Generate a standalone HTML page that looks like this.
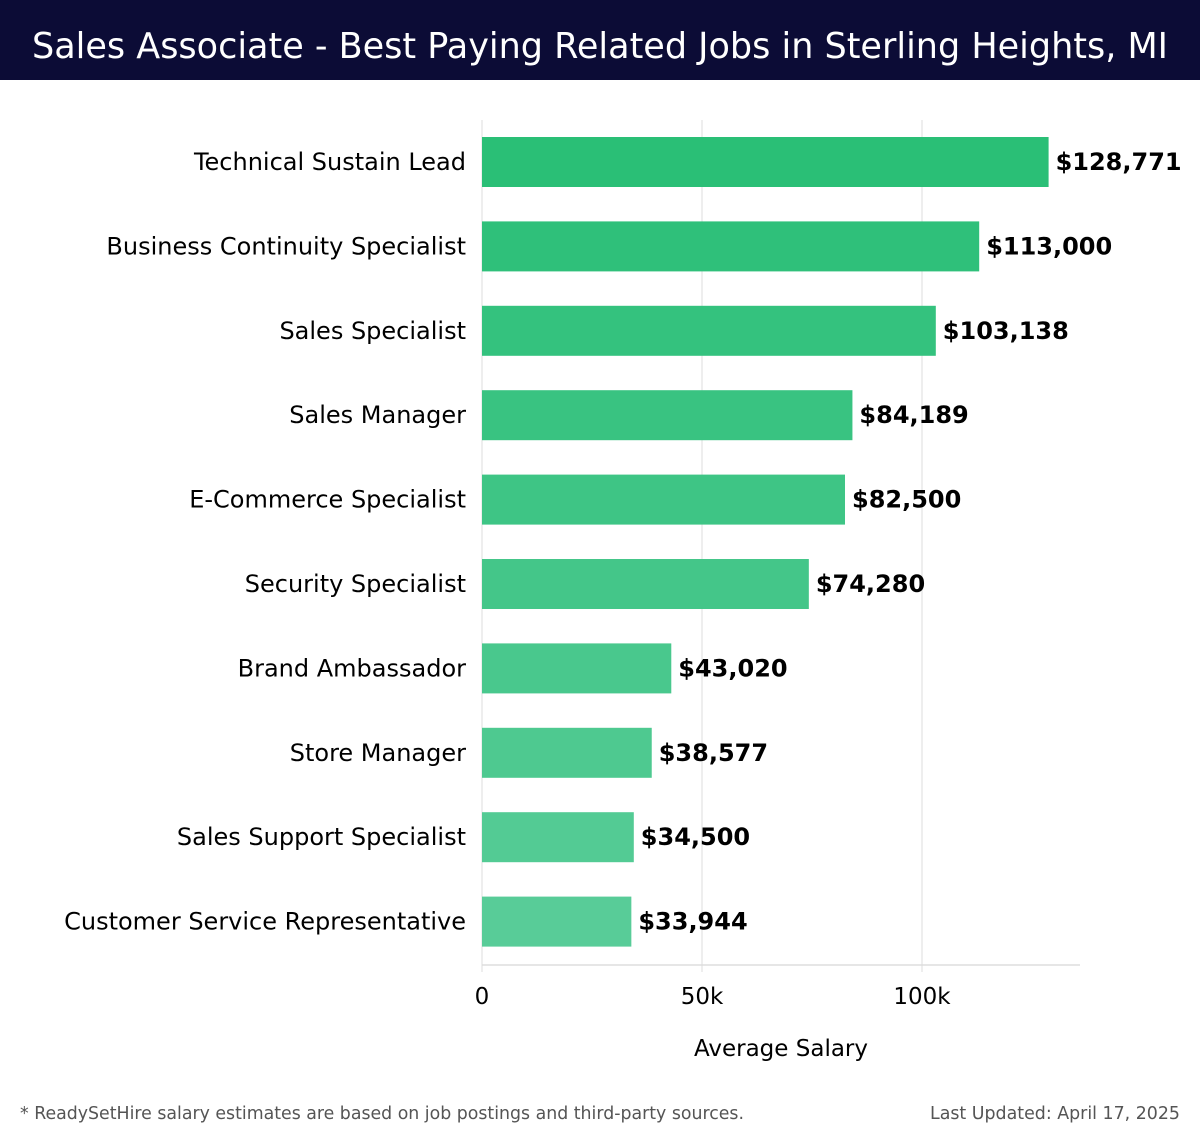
<!DOCTYPE html>
<html><head><meta charset="utf-8"><style>
body{margin:0;background:#fff;}
svg{display:block;}
</style></head><body>
<svg id="chart" width="1200" height="1140" xmlns="http://www.w3.org/2000/svg">
<rect x="0" y="0" width="1200" height="80" fill="#0c0c36"/>
<text x="600" y="58" text-anchor="middle" fill="#fff" font-family="'DejaVu Sans','Liberation Sans',sans-serif" font-size="36" textLength="1136" lengthAdjust="spacingAndGlyphs">Sales Associate - Best Paying Related Jobs in Sterling Heights, MI</text>
<g id="grid"></g>
<g id="bars"></g>
<line x1="482" y1="965" x2="1080" y2="965" stroke="#ddd" stroke-width="1.5"/>
<text x="781" y="1056" text-anchor="middle" font-family="'DejaVu Sans',sans-serif" font-size="23" fill="#000">Average Salary</text>
<text x="20" y="1119" font-family="'DejaVu Sans',sans-serif" font-size="18" fill="#555" textLength="724" lengthAdjust="spacingAndGlyphs">* ReadySetHire salary estimates are based on job postings and third-party sources.</text>
<text x="1180" y="1119" text-anchor="end" font-family="'DejaVu Sans',sans-serif" font-size="18" fill="#555" textLength="250" lengthAdjust="spacingAndGlyphs">Last Updated: April 17, 2025</text>
</svg>
<script>
const categories = ["Technical Sustain Lead","Business Continuity Specialist","Sales Specialist","Sales Manager","E-Commerce Specialist","Security Specialist","Brand Ambassador","Store Manager","Sales Support Specialist","Customer Service Representative"];
const salaries = [128771,113000,103138,84189,82500,74280,43020,38577,34500,33944];
const valueLabels = ["$128,771","$113,000","$103,138","$84,189","$82,500","$74,280","$43,020","$38,577","$34,500","$33,944"];
const tickValues = [0,50000,100000];
const tickLabels = ["0","50k","100k"];

const NS="http://www.w3.org/2000/svg";
const x = v => 482 + v*220/50000;
const rowY = i => 162 + i*84.4;
const F="'DejaVu Sans',sans-serif";
function mk(tag, attrs, parent){const e=document.createElementNS(NS,tag);for(const k in attrs)e.setAttribute(k,attrs[k]);parent.appendChild(e);return e;}
const grid=document.getElementById('grid'), bars=document.getElementById('bars');
tickValues.forEach((t,i)=>{
  const gl=mk('line',{x1:x(t),x2:x(t),y1:120,y2:972,stroke:'#e2e2e2','stroke-width':1.2},grid);
  
  
  const tl=mk('text',{x:x(t),y:1004,'text-anchor':'middle','font-family':F,'font-size':23,fill:'#000'},grid);
  tl.textContent=tickLabels[i];
  
  
});
const c1=[42,191,118], c2=[88,204,152];
categories.forEach((c,i)=>{
  const f=i/(categories.length-1);
  const col=`rgb(${c1.map((v,k)=>Math.round(v+(c2[k]-v)*f)).join(',')})`;
  const y=rowY(i);
  const r=mk('rect',{x:x(0),y:y-25,width:x(salaries[i])-x(0),height:50,fill:col},bars);
  
  
  const l=mk('text',{x:466,y:y+8,'text-anchor':'end','font-family':F,'font-size':24,fill:'#000'},bars);
  l.textContent=c;
  
  
  const v=mk('text',{x:x(salaries[i])+7,y:y+8,'font-family':F,'font-size':24,'font-weight':'bold',fill:'#000'},bars);
  v.textContent=valueLabels[i];
  
  
});
</script>
</body></html>
